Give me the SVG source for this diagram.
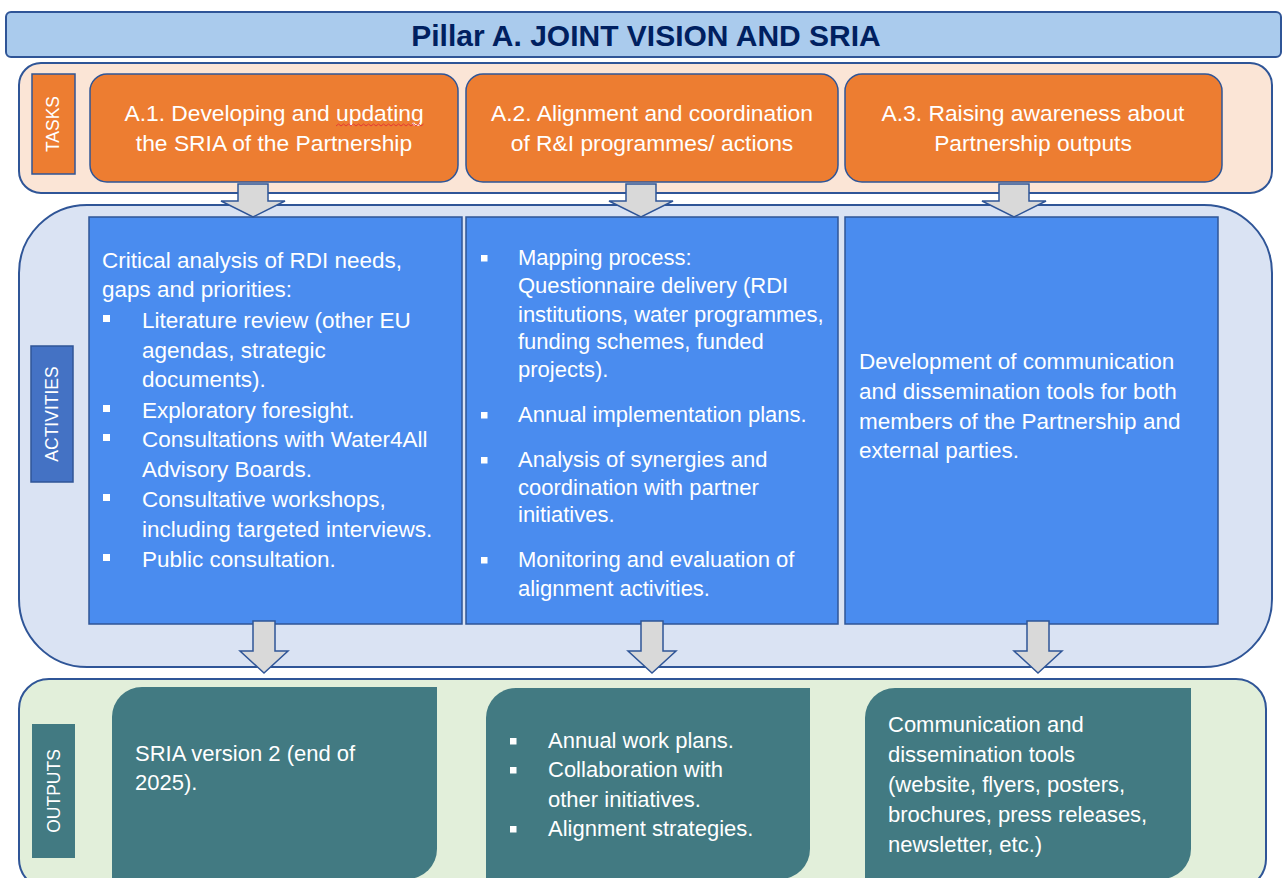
<svg xmlns="http://www.w3.org/2000/svg" width="1282" height="878" viewBox="0 0 1282 878">
<style>
.pan{stroke:#2f5597;stroke-width:2}
.task{fill:#ed7d31;stroke:#2f5597;stroke-width:1.5}
.act{fill:#4a8cef;stroke:#2f5597;stroke-width:1.5}
.out{fill:#427a82}
.arr{fill:#d9d9d9;stroke:#2f5597;stroke-width:1.5;stroke-linejoin:miter}
text{font-family:"Liberation Sans",Arial,sans-serif;fill:#ffffff}
.tt{font-size:22.8px;text-anchor:middle}
.at{font-size:22.5px}
.at2{font-size:22px}
.ot{font-size:22px}
.lab{font-size:17.5px;text-anchor:middle}
.bul{fill:#ffffff}
</style>
<rect width="1282" height="878" fill="#ffffff"/>
<g id="title">
<rect x="6" y="12" width="1275" height="45" rx="5" fill="#aacbed" class="pan"/>
<text x="646" y="46" style="font-size:30px;font-weight:bold;fill:#002060;text-anchor:middle">Pillar A. JOINT VISION AND SRIA</text>
</g>
<g id="tasks-panel">
<rect x="19" y="63" width="1253" height="130" rx="22" fill="#fbe5d6" class="pan"/>
<rect x="32" y="74" width="43" height="100" fill="#ed7d31" stroke="#2f5597" stroke-width="1.5"/>
<text class="lab" transform="translate(59,124) rotate(-90)">TASKS</text>
</g>
<g id="activities-panel">
<rect x="19" y="205" width="1253" height="462" rx="68" fill="#dae3f3" class="pan"/>
<rect x="31" y="346" width="42" height="136" fill="#4472c4" stroke="#2f5597" stroke-width="1.5"/>
<text class="lab" transform="translate(58,414) rotate(-90)">ACTIVITIES</text>
</g>
<g id="outputs-panel">
<rect x="19" y="679" width="1247" height="210" rx="30" fill="#e2efda" class="pan"/>
<rect x="32" y="724" width="43" height="134" fill="#427a82"/>
<text class="lab" transform="translate(60,791) rotate(-90)">OUTPUTS</text>
</g>
<g id="task-a1">
<rect x="90" y="74" width="368" height="108" rx="17" class="task"/>
<text class="tt" x="274" y="121">A.1. Developing and updating</text>
<text class="tt" x="274" y="151">the SRIA of the Partnership</text>
<path d="M336,126 l2.5,-2 l2.5,2 l2.5,-2 l2.5,2 l2.5,-2 l2.5,2 l2.5,-2 l2.5,2 l2.5,-2 l2.5,2 l2.5,-2 l2.5,2 l2.5,-2 l2.5,2 l2.5,-2 l2.5,2 l2.5,-2 l2.5,2 l2.5,-2 l2.5,2 l2.5,-2 l2.5,2 l2.5,-2 l2.5,2 l2.5,-2 l2.5,2 l2.5,-2 l2.5,2 l2.5,-2 l2.5,2 l2.5,-2 l2.5,2 l2.5,-2 l2.5,2 l2.5,-2" fill="none" stroke="#e53935" stroke-width="1"/>
</g>
<g id="task-a2">
<rect x="466" y="74" width="372" height="108" rx="17" class="task"/>
<text class="tt" x="652" y="121">A.2. Alignment and coordination</text>
<text class="tt" x="652" y="151">of R&amp;I programmes/ actions</text>
</g>
<g id="task-a3">
<rect x="845" y="74" width="377" height="108" rx="17" class="task"/>
<text class="tt" x="1033" y="121">A.3. Raising awareness about</text>
<text class="tt" x="1033" y="151">Partnership outputs</text>
</g>
<g id="activity-1">
<rect x="89" y="217" width="373" height="407" class="act"/>
<text class="at" x="102" y="268">Critical analysis of RDI needs,</text>
<text class="at" x="102" y="297">gaps and priorities:</text>
<rect class="bul" x="103" y="315" width="7" height="7"/>
<text class="at" x="142" y="328">Literature review (other EU</text>
<text class="at" x="142" y="358">agendas, strategic</text>
<text class="at" x="142" y="387">documents).</text>
<rect class="bul" x="103" y="405" width="7" height="7"/>
<text class="at" x="142" y="418">Exploratory foresight.</text>
<rect class="bul" x="103" y="434" width="7" height="7"/>
<text class="at" x="142" y="447">Consultations with Water4All</text>
<text class="at" x="142" y="477">Advisory Boards.</text>
<rect class="bul" x="103" y="494" width="7" height="7"/>
<text class="at" x="142" y="507">Consultative workshops,</text>
<text class="at" x="142" y="537">including targeted interviews.</text>
<rect class="bul" x="103" y="554" width="7" height="7"/>
<text class="at" x="142" y="567">Public consultation.</text>
</g>
<g id="activity-2">
<rect x="466" y="217" width="372" height="407" class="act"/>
<rect class="bul" x="481" y="255" width="6.5" height="6.5"/>
<text class="at2" x="518" y="265">Mapping process:</text>
<text class="at2" x="518" y="293">Questionnaire delivery (RDI</text>
<text class="at2" x="518" y="322">institutions, water programmes,</text>
<text class="at2" x="518" y="349">funding schemes, funded</text>
<text class="at2" x="518" y="377">projects).</text>
<rect class="bul" x="481" y="412" width="6.5" height="6.5"/>
<text class="at2" x="518" y="422">Annual implementation plans.</text>
<rect class="bul" x="481" y="457" width="6.5" height="6.5"/>
<text class="at2" x="518" y="467">Analysis of synergies and</text>
<text class="at2" x="518" y="495">coordination with partner</text>
<text class="at2" x="518" y="522">initiatives.</text>
<rect class="bul" x="481" y="557" width="6.5" height="6.5"/>
<text class="at2" x="518" y="567">Monitoring and evaluation of</text>
<text class="at2" x="518" y="596">alignment activities.</text>
</g>
<g id="activity-3">
<rect x="845" y="217" width="373" height="407" class="act"/>
<text class="at" x="859" y="369">Development of communication</text>
<text class="at" x="859" y="399">and dissemination tools for both</text>
<text class="at" x="859" y="429">members of the Partnership and</text>
<text class="at" x="859" y="458">external parties.</text>
</g>
<g id="output-1">
<path class="out" d="M142,687 H437 V849 A30,30 0 0 1 407,879 H112 V717 A30,30 0 0 1 142,687 Z"/>
<text class="ot" x="135" y="761">SRIA version 2 (end of</text>
<text class="ot" x="135" y="790">2025).</text>
</g>
<g id="output-2">
<path class="out" d="M516,688 H810 V849 A30,30 0 0 1 780,879 H486 V718 A30,30 0 0 1 516,688 Z"/>
<rect class="bul" x="510" y="738" width="6.5" height="6.5"/>
<text class="ot" x="548" y="748">Annual work plans.</text>
<rect class="bul" x="510" y="767" width="6.5" height="6.5"/>
<text class="ot" x="548" y="777">Collaboration with</text>
<text class="ot" x="548" y="807">other initiatives.</text>
<rect class="bul" x="510" y="826" width="6.5" height="6.5"/>
<text class="ot" x="548" y="836">Alignment strategies.</text>
</g>
<g id="output-3">
<path class="out" d="M895,688 H1191 V849 A30,30 0 0 1 1161,879 H865 V718 A30,30 0 0 1 895,688 Z"/>
<text class="ot" x="888" y="732">Communication and</text>
<text class="ot" x="888" y="762">dissemination tools</text>
<text class="ot" x="888" y="792">(website, flyers, posters,</text>
<text class="ot" x="888" y="822">brochures, press releases,</text>
<text class="ot" x="888" y="852">newsletter, etc.)</text>
</g>
<g id="connectors">
<path class="arr" d="M238,184 H268 V201 H285 L253,217 L221,201 H238 Z"/>
<path class="arr" d="M626,184 H656 V201 H673 L641,217 L609,201 H626 Z"/>
<path class="arr" d="M999,184 H1029 V201 H1046 L1014,217 L982,201 H999 Z"/>
<path class="arr" d="M253,621 H275 V651 H288 L264,673 L240,651 H253 Z"/>
<path class="arr" d="M641,621 H663 V651 H676 L652,673 L628,651 H641 Z"/>
<path class="arr" d="M1027,621 H1049 V651 H1062 L1038,673 L1014,651 H1027 Z"/>
</g>
</svg>
